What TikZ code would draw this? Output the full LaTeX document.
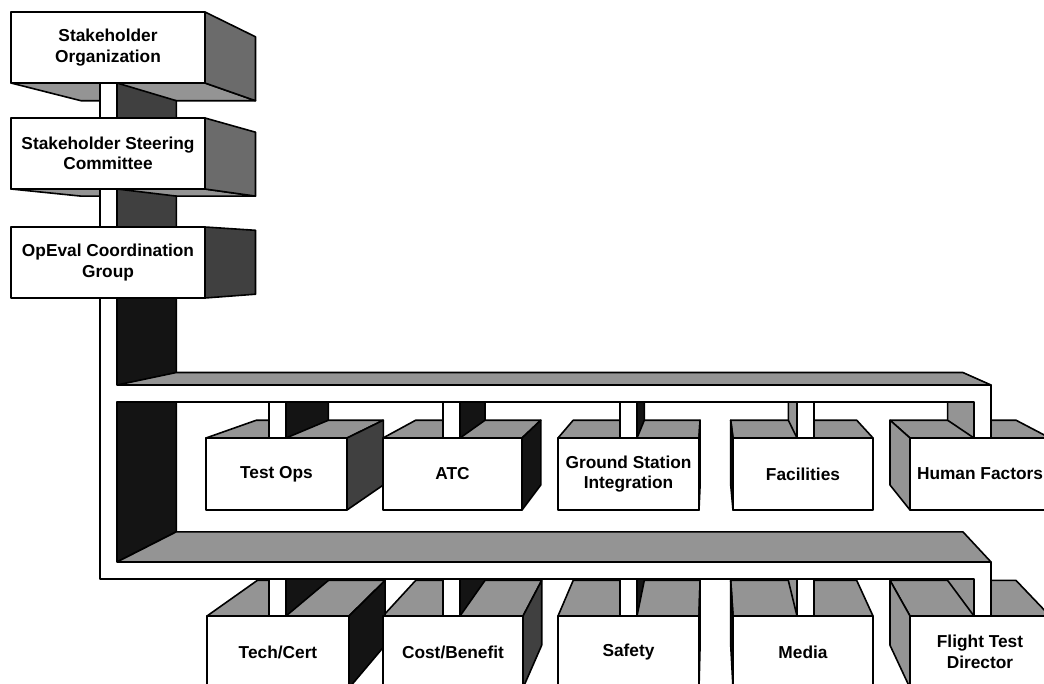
\documentclass[tikz,border=0pt]{standalone}
\usepackage{fontspec}
\setmainfont{Liberation Sans}
\usetikzlibrary{calc}
\pgfdeclarelayer{faces}
\pgfdeclarelayer{pipes}
\pgfdeclarelayer{bars}
\pgfsetlayers{faces,pipes,bars,main}
\newcommand\kk{0.1}
% face between two front points and their points receding toward the vanishing point
\newcommand\cubeface[3]{\draw[#1] (#2) -- (#3) -- ($(#3)!\kk!(vp)$) -- ($(#2)!\kk!(vp)$) -- cycle;}
\begin{document}
\begin{tikzpicture}[x=1pt,y=-1pt,
  edge/.style={draw=black, line width=1.6pt, line join=round},
  lightf/.style={edge, fill=black!42},
  midf/.style={edge, fill=black!58},
  darkf/.style={edge, fill=black!75},
  blackf/.style={edge, fill=black!92},
  whitef/.style={edge, fill=white},
  front/.style={edge, fill=white, inner sep=0pt, outer sep=0pt, align=center,
    anchor=north west, font=\fontsize{17.3}{20.5}\selectfont\bfseries},
  topbox/.style={front, minimum width=194pt, minimum height=71pt},
  rowbox/.style={front, minimum height=72pt},
]
\useasboundingbox (0,0) rectangle (1044,683);
\coordinate (vp) at (710,260);
% x positions of pipe, stubs and y levels of bars
\coordinate (pipeL) at (100,0);
\coordinate (pipeR) at (117,0);
\coordinate (s1L) at (269,0); \coordinate (s1R) at (286,0);
\coordinate (s2L) at (443,0); \coordinate (s2R) at (460,0);
\coordinate (s3L) at (620,0); \coordinate (s3R) at (637,0);
\coordinate (s4L) at (797,0); \coordinate (s4R) at (814,0);
\coordinate (endL) at (974,0); \coordinate (endR) at (991,0);
\coordinate (ubarT) at (0,385); \coordinate (ubarB) at (0,402);
\coordinate (lbarT) at (0,562); \coordinate (lbarB) at (0,579);

% ---------- front faces (nodes) ----------
\node[topbox] (b1) at (11,12) {Stakeholder\\Organization};
\node[topbox] (b2) at (11,118) {Stakeholder Steering\\Committee};
\node[topbox] (b3) at (11,227) {OpEval Coordination\\Group};

\node[rowbox, minimum width=141pt] (testops) at (206,438) {Test Ops};
\node[rowbox, minimum width=139pt] (atc) at (383,438) {ATC};
\node[rowbox, minimum width=141pt] (gsi) at (558,438) {Ground Station\\Integration};
\node[rowbox, minimum width=140pt] (fac) at (733,438) {Facilities};
\node[rowbox, minimum width=140pt] (hf) at (910,438) {Human Factors};

\node[rowbox, minimum width=142pt] (tech) at (207,616) {Tech/Cert};
\node[rowbox, minimum width=140pt] (cost) at (383,616) {Cost/Benefit};
\node[rowbox, minimum width=141pt] (safety) at (558,616) {Safety};
\node[rowbox, minimum width=140pt] (media) at (733,616) {Media};
\node[rowbox, minimum width=140pt] (ftd) at (910,616) {Flight Test\\Director};

% ---------- receding faces of the boxes ----------
\begin{pgfonlayer}{faces}
\cubeface{lightf}{b1.south west}{b1.south east}
\cubeface{midf}{b1.north east}{b1.south east}
\cubeface{lightf}{b2.south west}{b2.south east}
\cubeface{midf}{b2.north east}{b2.south east}
\cubeface{darkf}{b3.north east}{b3.south east}
\foreach \n in {testops,atc,gsi,fac,hf,tech,cost,safety,media,ftd}
  {\cubeface{lightf}{\n.north west}{\n.north east}}
\cubeface{darkf}{testops.north east}{testops.south east}
\cubeface{blackf}{atc.north east}{atc.south east}
\cubeface{blackf}{gsi.north east}{gsi.south east}
\cubeface{blackf}{fac.north west}{fac.south west}
\cubeface{lightf}{hf.north west}{hf.south west}
\cubeface{blackf}{tech.north east}{tech.south east}
\cubeface{darkf}{cost.north east}{cost.south east}
\cubeface{blackf}{safety.north east}{safety.south east}
\cubeface{blackf}{media.north west}{media.south west}
\cubeface{lightf}{ftd.north west}{ftd.south west}
\end{pgfonlayer}

% ---------- pipe between top boxes and stubs ----------
\begin{pgfonlayer}{pipes}
\cubeface{darkf}{pipeR |- b1.south}{pipeR |- b2.north}
\draw[whitef] (pipeL |- b1.south) rectangle (pipeR |- b2.north);
\cubeface{darkf}{pipeR |- b2.south}{pipeR |- b3.north}
\draw[whitef] (pipeL |- b2.south) rectangle (pipeR |- b3.north);
\cubeface{blackf}{pipeR |- b3.south}{pipeR |- lbarT}
% upper row stubs
\cubeface{blackf}{s1R |- ubarB}{s1R |- testops.north}
\draw[whitef] (s1L |- ubarB) rectangle (s1R |- testops.north);
\cubeface{blackf}{s2R |- ubarB}{s2R |- atc.north}
\draw[whitef] (s2L |- ubarB) rectangle (s2R |- atc.north);
\cubeface{blackf}{s3R |- ubarB}{s3R |- gsi.north}
\draw[whitef] (s3L |- ubarB) rectangle (s3R |- gsi.north);
\cubeface{lightf}{s4L |- ubarB}{s4L |- fac.north}
\draw[whitef] (s4L |- ubarB) rectangle (s4R |- fac.north);
\cubeface{lightf}{endL |- ubarB}{endL |- hf.north}
% lower row stubs
\cubeface{blackf}{s1R |- lbarB}{s1R |- tech.north}
\draw[whitef] (s1L |- lbarB) rectangle (s1R |- tech.north);
\cubeface{blackf}{s2R |- lbarB}{s2R |- cost.north}
\draw[whitef] (s2L |- lbarB) rectangle (s2R |- cost.north);
\cubeface{blackf}{s3R |- lbarB}{s3R |- safety.north}
\draw[whitef] (s3L |- lbarB) rectangle (s3R |- safety.north);
\cubeface{lightf}{s4L |- lbarB}{s4L |- media.north}
\draw[whitef] (s4L |- lbarB) rectangle (s4R |- media.north);
\cubeface{lightf}{endL |- lbarB}{endL |- ftd.north}
\end{pgfonlayer}

% ---------- the two bars and the main pipe ----------
\begin{pgfonlayer}{bars}
\cubeface{lightf}{pipeR |- ubarT}{endR |- ubarT}
\cubeface{lightf}{pipeR |- lbarT}{endR |- lbarT}
\draw[whitef] (pipeL |- b3.south) -- (pipeL |- lbarB) -- (endL |- lbarB)
  -- (endL |- ftd.north) -- (endR |- ftd.north) -- (endR |- lbarT)
  -- (pipeR |- lbarT) -- (pipeR |- ubarB) -- (endL |- ubarB)
  -- (endL |- hf.north) -- (endR |- hf.north) -- (endR |- ubarT)
  -- (pipeR |- ubarT) -- (pipeR |- b3.south) -- cycle;
\end{pgfonlayer}
\end{tikzpicture}
\end{document}
